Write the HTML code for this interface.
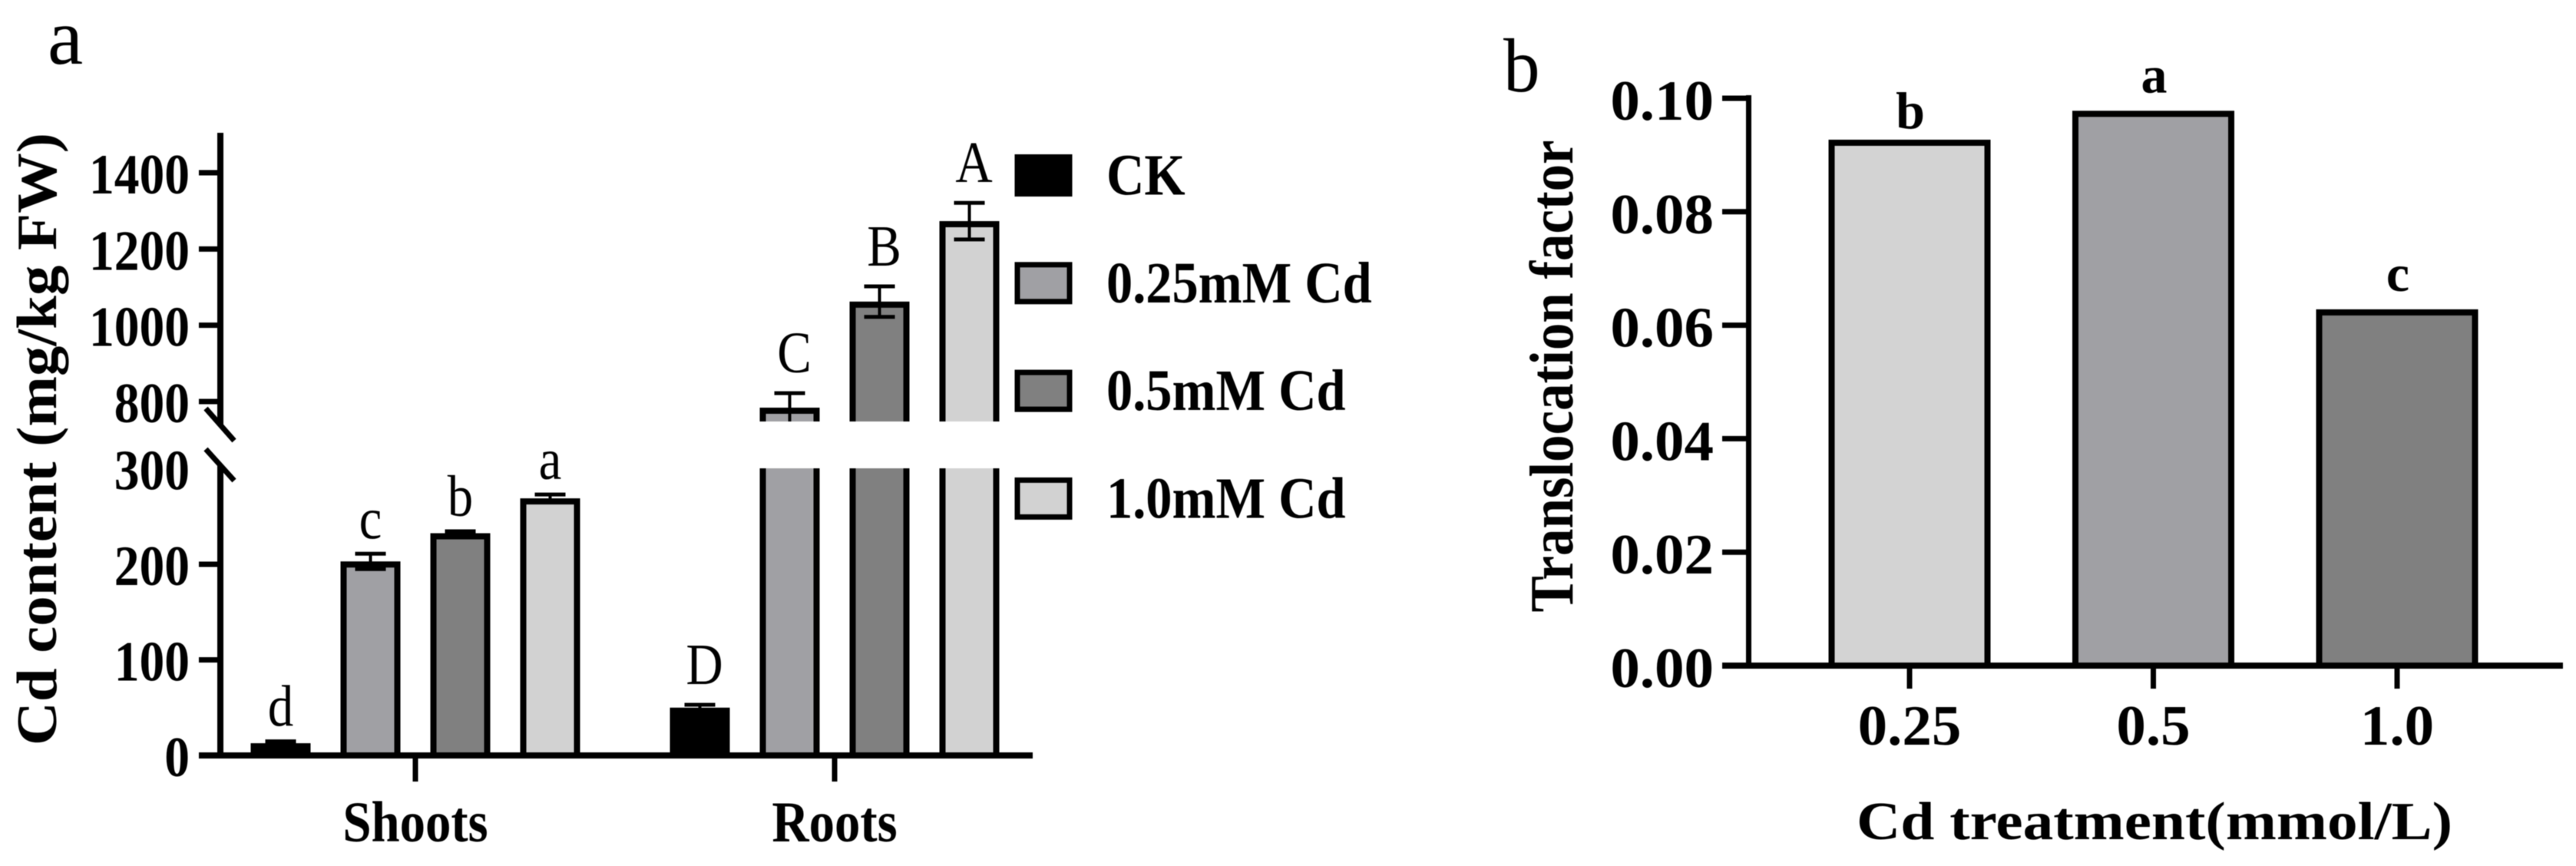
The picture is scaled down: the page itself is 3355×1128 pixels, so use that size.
<!DOCTYPE html>
<html>
<head>
<meta charset="utf-8">
<title>Cd content and translocation factor</title>
<style>
html,body{margin:0;padding:0;background:#fff;}
body{width:3355px;height:1128px;overflow:hidden;}
svg{display:block;filter:blur(0.6px);}
text{font-family:"Liberation Serif",serif;fill:#000;}
</style>
</head>
<body>
<svg id="figure" xmlns="http://www.w3.org/2000/svg" width="3355" height="1128" viewBox="0 0 3355 1128"></svg>
<script>
// Panel a data
const groupsA = ['Shoots', 'Roots'];
const seriesA = ['CK', '0.25mM Cd', '0.5mM Cd', '1.0mM Cd'];
const shootsValues = [12.8, 203, 232.5, 269];
const shootsErrors = [2, 8, 2, 4];
const shootsLetters = ['d', 'c', 'b', 'a'];
const rootsValues = [50, 784, 1062, 1273];
const rootsErrors = [3, 38, 40, 48];
const rootsLetters = ['D', 'C', 'B', 'A'];
const lowerTicksA = [0, 100, 200, 300];
const upperTicksA = [800, 1000, 1200, 1400];
// Panel b data
const categoriesB = ['0.25', '0.5', '1.0'];
const valuesB = [0.0927, 0.0978, 0.0628];
const lettersB = ['b', 'a', 'c'];
const ticksB = ['0.00', '0.02', '0.04', '0.06', '0.08', '0.10'];

const svg = document.getElementById('figure');
const NS = 'http://www.w3.org/2000/svg';
const fillA = ['#000000', '#a0a0a4', '#808080', '#d2d2d2'];
const fillB = ['#d3d3d3', '#a0a0a4', '#808080'];

function add(tag, attrs, name, parent) {
  const el = document.createElementNS(NS, tag);
  for (const k in attrs) el.setAttribute(k, attrs[k]);
  
  
  (parent || svg).appendChild(el);
  return el;
}
function line(x1, y1, x2, y2, w, name) {
  return add('line', {x1: x1, y1: y1, x2: x2, y2: y2, stroke: '#000', 'stroke-width': w}, name);
}
function label(x, y, str, size, sx, anchor, weight, name) {
  const el = add('text', {
    transform: 'translate(' + x + ',' + y + ') scale(' + sx + ',1)',
    'font-size': size, 'text-anchor': anchor, 'font-weight': weight
  }, name);
  el.textContent = str;
  return el;
}
function vertLabel(x, yCenter, str, size, len, name) {
  const el = add('text', {
    transform: 'translate(' + x + ',' + yCenter + ') rotate(-90)',
    'font-size': size, 'text-anchor': 'middle', 'font-weight': 'bold',
    textLength: len, lengthAdjust: 'spacingAndGlyphs'
  }, name);
  el.textContent = str;
  return el;
}

/* ---------- Panel a axis functions ---------- */
const BASE_A = 984, LOW_SCALE = 1.245, BREAK_TOP = 549, BREAK_BOT = 610;
function yLow(v) { return BASE_A - v * LOW_SCALE; }
function yUp(v) { return 523 - (v - 800) * 0.4967; }
function yA(v) { return v > 300 ? yUp(v) : yLow(v); }
function xA(g, s) { return 541 + g * 546 + (s - 1.5) * 117; }

label(62, 83, 'a', 104, 1, 'start', 'normal', 'panel-a-label');
vertLabel(73, 572, 'Cd content (mg/kg FW)', 74, 798, 'y-axis-title');

function barA(g, s, value, err, letter) {
  const cx = xA(g, s), half = 39, top = yA(value), ins = half - 4;
  const nm = groupsA[g].toLowerCase() + '-' + seriesA[s].replace(/[ .]/g, '').toLowerCase();
  if (value > 300) {
    add('rect', {x: cx - half, y: top, width: half * 2, height: BREAK_TOP - top, fill: fillA[s]}, 'bar-upper-' + nm);
    add('path', {d: 'M' + (cx - ins) + ' ' + BREAK_TOP + 'V' + (top + 4) + 'H' + (cx + ins) + 'V' + BREAK_TOP, fill: 'none', stroke: '#000', 'stroke-width': 8}, 'bar-upper-outline-' + nm);
    add('rect', {x: cx - half, y: BREAK_BOT, width: half * 2, height: BASE_A - BREAK_BOT, fill: fillA[s]}, 'bar-lower-' + nm);
    add('path', {d: 'M' + (cx - ins) + ' ' + BREAK_BOT + 'V' + BASE_A + 'M' + (cx + ins) + ' ' + BREAK_BOT + 'V' + BASE_A, fill: 'none', stroke: '#000', 'stroke-width': 8}, 'bar-lower-outline-' + nm);
  } else {
    add('rect', {x: cx - ins, y: top + 4, width: ins * 2, height: BASE_A - top - 4, fill: fillA[s], stroke: '#000', 'stroke-width': 8}, 'bar-' + nm);
  }
  const yHi = yA(value + err);
  const rawLo = yA(value - err);
  const limit = value > 300 ? BREAK_TOP : BASE_A;
  const yLo = Math.min(rawLo, limit);
  line(cx, yHi, cx, yLo, 4, 'error-stem-' + nm);
  line(cx - 20, yHi, cx + 20, yHi, 5, 'error-cap-top-' + nm);
  if (rawLo < limit) line(cx - 20, yLo, cx + 20, yLo, 5, 'error-cap-bottom-' + nm);
  label(cx + g * 6, yHi - (g === 1 ? 27 : 20), letter, 76, 0.88, 'middle', 'normal', 'significance-' + nm);
}
shootsValues.forEach(function (v, i) { barA(0, i, v, shootsErrors[i], shootsLetters[i]); });
rootsValues.forEach(function (v, i) { barA(1, i, v, rootsErrors[i], rootsLetters[i]); });

line(287, 173, 287, 553, 8, 'y-axis-upper');
line(287, 606, 287, 988, 8, 'y-axis-lower');
line(259, BASE_A, 1345, BASE_A, 8, 'x-axis');
line(268, 532, 305, 574, 7, 'axis-break-upper');
line(268, 585, 305, 626, 7, 'axis-break-lower');

upperTicksA.forEach(function (t) {
  line(259, yUp(t), 287, yUp(t), 7, 'y-tick-' + t);
  label(247, yUp(t) + 27, String(t), 74, 0.885, 'end', 'bold', 'y-tick-label-' + t);
});
lowerTicksA.forEach(function (t) {
  if (t !== 300) line(259, yLow(t), 287, yLow(t), 7, 'y-tick-' + t);
  label(247, yLow(t) + 27, String(t), 74, 0.885, 'end', 'bold', 'y-tick-label-' + t);
});
groupsA.forEach(function (g, i) {
  const cx = xA(i, 1.5);
  line(cx, BASE_A, cx, 1018, 7, 'x-tick-' + g.toLowerCase());
  label(cx, 1096, g, 75, 0.89, 'middle', 'bold', 'x-tick-label-' + g.toLowerCase());
});

seriesA.forEach(function (s, i) {
  const top = 201 + i * 140.3, key = s.replace(/[ .]/g, '').toLowerCase();
  add('rect', {x: 1325, y: top + 3.5, width: 68, height: 48, fill: fillA[i], stroke: '#000', 'stroke-width': 7}, 'legend-swatch-' + key);
  label(1441, top + 52.5, s, 76, 0.9, 'start', 'bold', 'legend-label-' + key);
});

/* ---------- Panel b axis functions ---------- */
const BASE_B = 867;
function yB(v) { return BASE_B - v * 7390; }
function xB(i) { return 2487 + i * 317.5; }

label(1958, 119, 'b', 100, 0.95, 'start', 'normal', 'panel-b-label');
vertLabel(2048, 490, 'Translocation factor', 80, 615, 'y-axis-title-b');

valuesB.forEach(function (v, i) {
  const cx = xB(i), half = 105.5, top = yB(v);
  add('rect', {x: cx - half + 4, y: top + 4, width: half * 2 - 8, height: BASE_B - top - 4, fill: fillB[i], stroke: '#000', 'stroke-width': 8}, 'bar-' + categoriesB[i]);
  label(cx + 1, top - (lettersB[i] === 'b' ? 15 : 24), lettersB[i], 68, 1, 'middle', 'bold', 'significance-' + categoriesB[i]);
});

line(2277.5, 124, 2277.5, 871, 7, 'y-axis-b');
line(2243, BASE_B, 3338, BASE_B, 8, 'x-axis-b');
ticksB.forEach(function (t) {
  const y = yB(parseFloat(t));
  line(2243, y, 2277, y, 7, 'y-tick-b-' + t);
  label(2232, y + 28, t, 74, 1.04, 'end', 'bold', 'y-tick-label-b-' + t);
});
categoriesB.forEach(function (c, i) {
  line(xB(i), BASE_B, xB(i), 897, 7, 'x-tick-b-' + c);
  label(xB(i), 970, c, 74, 1.04, 'middle', 'bold', 'x-tick-label-b-' + c);
});
const titleB = label(2806, 1093, 'Cd treatment(mmol/L)', 70, 1, 'middle', 'bold', 'x-axis-title-b');
titleB.setAttribute('textLength', '776');
titleB.setAttribute('lengthAdjust', 'spacingAndGlyphs');
</script>
</body>
</html>
